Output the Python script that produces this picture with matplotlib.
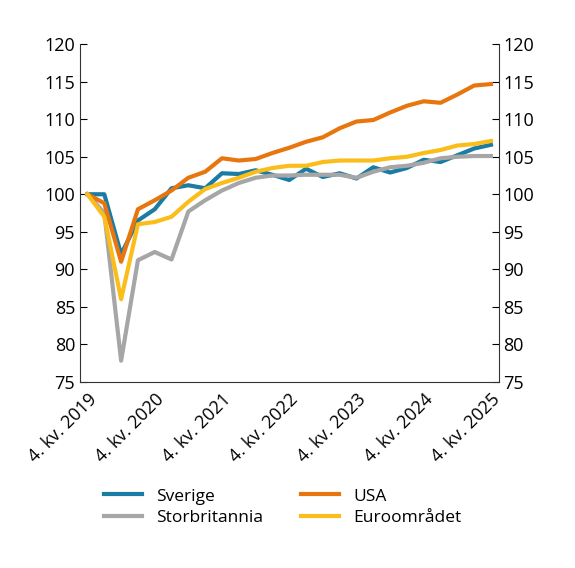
import matplotlib
matplotlib.use("Agg")
import matplotlib.pyplot as plt

quarters = list(range(25))
tick_pos = [0, 4, 8, 12, 16, 20, 24]
tick_labels = ["4. kv. 2019", "4. kv. 2020", "4. kv. 2021", "4. kv. 2022", "4. kv. 2023", "4. kv. 2024", "4. kv. 2025"]
sverige = [100, 100, 92, 96.5, 98, 100.8, 101.2, 100.8, 102.8, 102.7, 103.2, 102.6, 101.9, 103.4, 102.3, 102.8, 102.1, 103.6, 102.9, 103.5, 104.6, 104.3, 105.2, 106.1, 106.6]
usa = [100, 98.8, 91, 98, 99.2, 100.5, 102.2, 103, 104.8, 104.5, 104.7, 105.5, 106.2, 107, 107.6, 108.8, 109.7, 109.9, 110.9, 111.8, 112.4, 112.2, 113.3, 114.5, 114.7]
euro = [100, 97, 86, 96, 96.3, 97, 99, 100.7, 101.5, 102.2, 103, 103.5, 103.8, 103.8, 104.3, 104.5, 104.5, 104.5, 104.8, 105, 105.5, 105.9, 106.5, 106.7, 107.1]
uk = [100, 97.5, 77.8, 91.2, 92.3, 91.3, 97.7, 99.2, 100.5, 101.5, 102.2, 102.5, 102.5, 102.6, 102.6, 102.6, 102.2, 103, 103.6, 103.8, 104.2, 104.8, 105, 105.1, 105.1]

plt.rcParams['font.family'] = ['Open Sans', 'DejaVu Sans']
fig = plt.figure(figsize=(5.75, 5.68), dpi=100)
ax = fig.add_axes([0.139, 0.328, 0.728, 0.594])
lw = 3
ax.plot(quarters, sverige, color="#1a7ca3", lw=lw, label="Sverige")
ax.plot(quarters, uk, color="#a6a6a6", lw=lw, label="Storbritannia")
ax.plot(quarters, usa, color="#e8760f", lw=lw, label="USA")
ax.plot(quarters, euro, color="#fbbd1a", lw=lw, label="Euroområdet")
ax.set_ylim(75, 120)
ax.set_xlim(-0.45, 24.45)
ax.set_yticks(range(75, 121, 5))
ax.set_xticks(tick_pos)
ax.set_xticklabels(tick_labels, rotation=45, ha="right", rotation_mode="anchor", fontsize=13)
ax.tick_params(axis="y", direction="in", labelsize=13, right=True, labelright=True, length=5)
ax.tick_params(axis="x", length=0, pad=6)
ax.spines["top"].set_visible(False)
for s in ["left", "right", "bottom"]:
    ax.spines[s].set_color("#333333")
ax.legend(loc="upper left", bbox_to_anchor=(0.02, -0.27), ncol=2, frameon=False, fontsize=12.5,
          handlelength=2.2, columnspacing=2.2, labelspacing=0.3)
fig.savefig("out.png", dpi=100)
